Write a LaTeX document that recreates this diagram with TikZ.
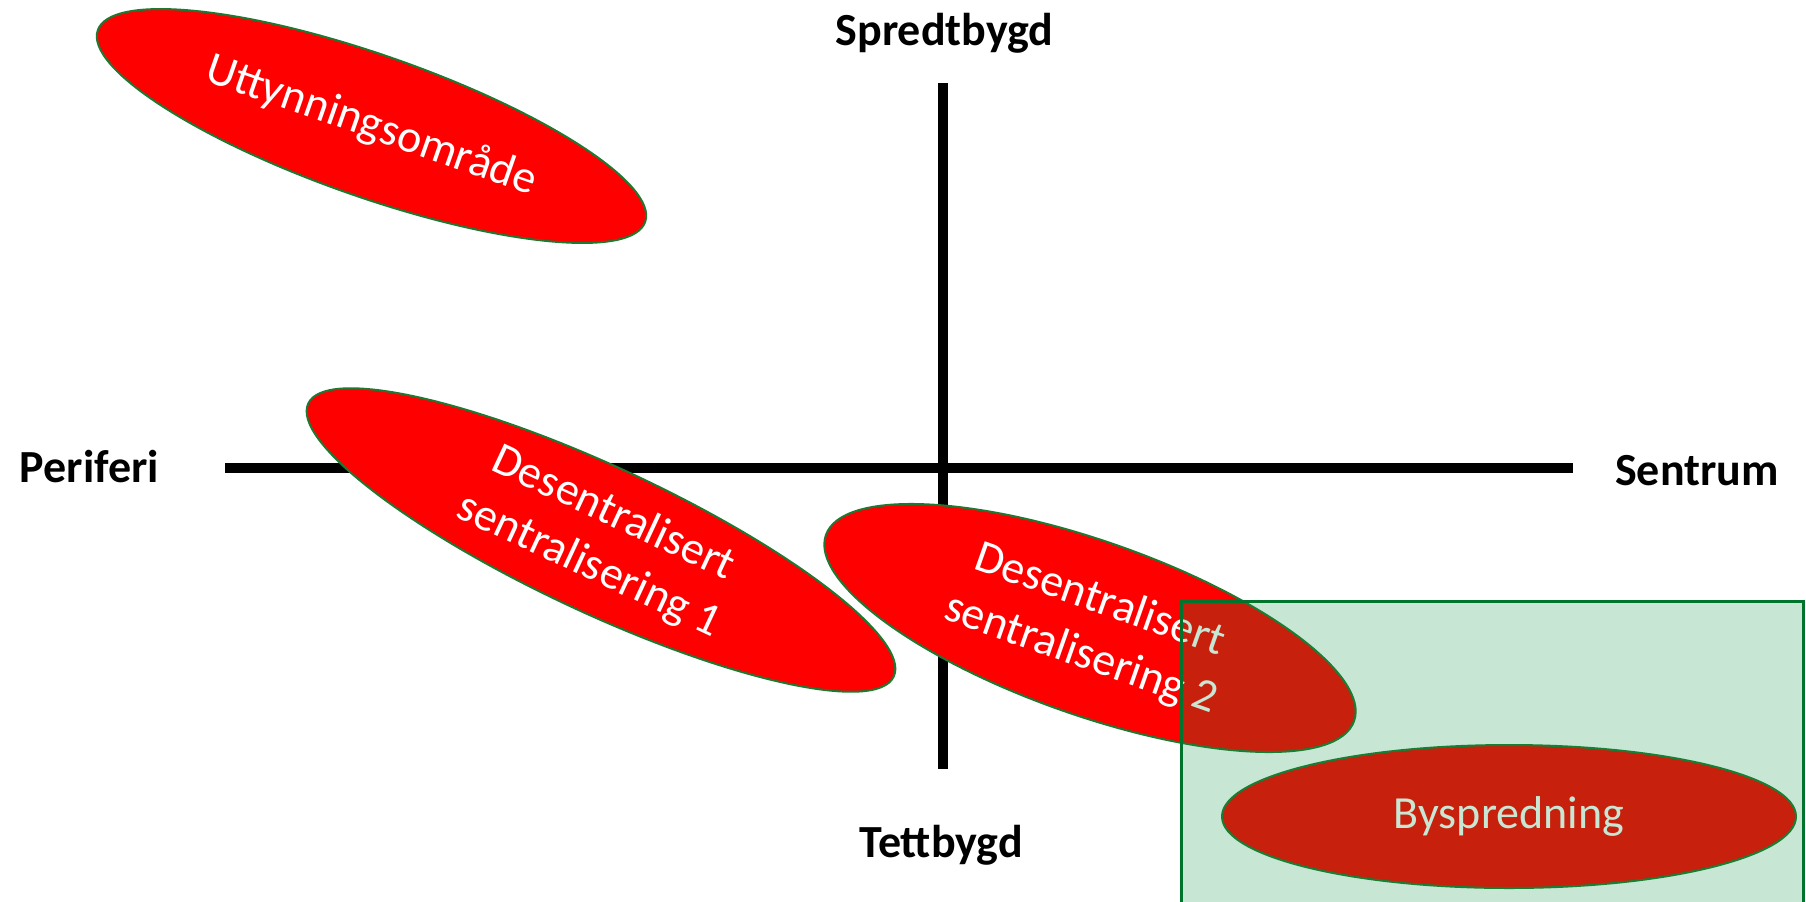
\documentclass[tikz,border=0pt]{standalone}
\usepackage{fontspec}
\setmainfont{Carlito}
\usetikzlibrary{shapes.geometric}
\definecolor{rimgreen}{RGB}{30,120,50}
\definecolor{boxgreen}{RGB}{0,150,60}
\definecolor{boxedge}{RGB}{0,115,45}
\tikzset{%
	zone/.style={draw=rimgreen, line width=1pt, fill=red, ellipse, inner sep=0mm,%
		text=white, align=center, font=\fontsize{23}{28.5}\selectfont},
	axis/.style={line width=5pt},
	pole/.style={anchor=base, inner sep=0mm, font=\bfseries\fontsize{23}{28}\selectfont},
	tettbox/.style={draw=boxedge, line width=1.5pt, fill=boxgreen, fill opacity=0.22}
}
\begin{document}
\begin{tikzpicture}[x=0.5pt, y=-0.5pt]
	\fill[white] (0,0) rectangle (1806,901);
	\useasboundingbox (0,0) rectangle (1806,901);
	% axes
	\coordinate (v-top) at (943,83);
	\coordinate (v-bot) at (943,769);
	\coordinate (h-left) at (225,467.5);
	\coordinate (h-right) at (1573,467.5);
	\draw [axis] (v-top) -- (v-bot);
	\draw [axis] (h-left) -- (h-right);
	\node[pole] (spredt) at (944.5,45) {Spredtbygd};
	\node[pole] (tett) at (941,857) {Tettbygd};
	\node[pole] (periferi) at (89.5,482) {Periferi};
	\node[pole] (sentrum) at (1697,485) {Sentrum};
	% zones
	\node[zone, minimum width=290pt, minimum height=71pt, rotate=-19.3] (uttynning) at (371.5,126) {Uttynningsområde};
	\node[zone, minimum width=323pt, minimum height=73pt, rotate=-25] (desentral-1) at (601,540) {Desentralisert\\sentralisering 1};
	\node[zone, minimum width=280pt, minimum height=87pt, rotate=-19.4] (desentral-2) at (1090,628) {Desentralisert\\sentralisering 2};
	\node[zone, minimum width=287pt, minimum height=71.5pt] (byspredning) at (1509,816.5) {Byspredning};
	% tettbygd sentrum
	\coordinate (box-nw) at (1181,601);
	\coordinate (box-se) at (1803,910);
	\draw [tettbox] (box-nw) rectangle (box-se);
\end{tikzpicture}
\end{document}
